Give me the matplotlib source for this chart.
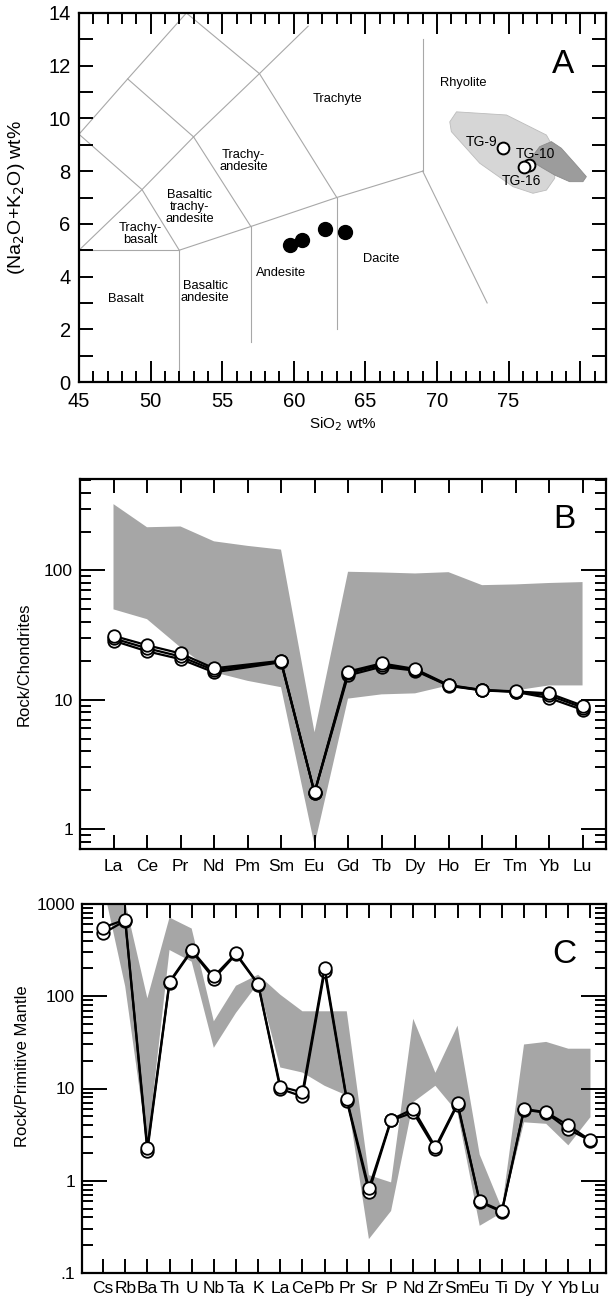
import matplotlib
matplotlib.use('Agg')
import matplotlib.pyplot as plt
from matplotlib.ticker import FixedLocator, FixedFormatter, LogLocator, NullFormatter

plt.rcParams['font.family'] = ['Liberation Sans', 'DejaVu Sans']

# ---------------- Panel A : TAS ----------------
tas_lines = [
    [(45, 5), (52, 5)],
    [(52, 5), (52, 0.4)],
    [(57, 5.9), (57, 1.5)],
    [(63, 7), (63, 2.0)],
    [(52, 5), (57, 5.9), (63, 7), (69, 8)],
    [(69, 8), (69, 13.0)],
    [(69, 8), (73.5, 3.0)],
    [(45, 9.4), (49.4, 7.3), (52, 5)],
    [(45, 5), (49.4, 7.3), (53, 9.3), (57.6, 11.7), (61, 13.5)],
    [(53, 9.3), (57, 5.9)],
    [(57.6, 11.7), (63, 7)],
    [(48.4, 11.5), (53, 9.3)],
    [(45, 9.4), (48.4, 11.5), (52.5, 14)],
    [(52.5, 14), (57.6, 11.7)],
]
field_names = ['Trachyte', 'Rhyolite', 'Trachy-\nandesite', 'Basaltic\ntrachy-\nandesite',
               'Trachy-\nbasalt', 'Basalt', 'Basaltic\nandesite', 'Andesite', 'Dacite']
field_x = [63.05, 71.8, 56.5, 52.75, 49.3, 48.25, 53.8, 59.1, 66.1]
field_y = [10.75, 11.35, 8.4, 6.65, 5.6, 3.15, 3.4, 4.15, 4.65]

andesite_sio2 = [59.7, 60.6, 62.2, 63.6]
andesite_alk = [5.2, 5.4, 5.8, 5.7]

tg_names = ['TG-9', 'TG-10', 'TG-16']
tg_sio2 = [74.6, 76.45, 76.1]
tg_alk = [8.87, 8.23, 8.17]
tg_label_x = [73.1, 76.85, 75.9]
tg_label_y = [9.12, 8.65, 7.62]

light_field_x = [70.89, 71.36, 74.85, 77.64, 78.22, 78.22, 77.64, 76.7, 75.31, 72.98, 71.0]
light_field_y = [9.87, 10.25, 10.13, 9.37, 8.80, 7.73, 7.28, 7.16, 7.41, 8.30, 9.50]
dark_field_x = [76.47, 77.17, 77.99, 78.68, 79.73, 80.43, 80.19, 79.26, 78.22, 77.4]
dark_field_y = [8.42, 8.93, 9.12, 8.87, 8.23, 7.79, 7.60, 7.60, 7.85, 8.11]

# ---------------- Panel B : REE ----------------
ree = ['La', 'Ce', 'Pr', 'Nd', 'Pm', 'Sm', 'Eu', 'Gd', 'Tb', 'Dy', 'Ho', 'Er', 'Tm', 'Yb', 'Lu']
ree_s1 = [31.2, 26.4, 22.8, 17.5, None, 20.0, 1.92, 16.5, 19.1, 17.3, 13.0, 11.9, 11.6, 11.2, 9.0]
ree_s2 = [28.6, 23.7, 20.6, 16.3, None, 19.5, 1.90, 15.4, 18.0, 16.8, 12.8, 11.8, 11.5, 10.3, 8.35]
ree_s3 = [29.8, 25.0, 21.6, 16.9, None, 19.8, 1.91, 16.0, 18.6, 17.0, 12.9, 11.85, 11.55, 10.8, 8.7]
ree_band_hi = [326, 216, 219, 168, 155, 145, 5.6, 97.7, 96.5, 94.8, 97, 77, 78, 80, 81.3]
ree_band_lo = [50, 42, 25.4, 16.3, 14.0, 12.5, 0.75, 10.2, 11.0, 11.2, 12.9, 11.8, 11.8, 12.9, 12.9]

# ---------------- Panel C : spider ----------------
spd = ['Cs', 'Rb', 'Ba', 'Th', 'U', 'Nb', 'Ta', 'K', 'La', 'Ce', 'Pb', 'Pr', 'Sr', 'P', 'Nd',
       'Zr', 'Sm', 'Eu', 'Ti', 'Dy', 'Y', 'Yb', 'Lu']
spd_s1 = [556, 677, 2.27, 144, 317, 164, 292, 136, 10.5, 9.08, 204, 7.7, 0.83, 4.6, 6.0,
          2.32, 6.9, 0.60, 0.47, 6.0, 5.53, 3.98, 2.74]
spd_s2 = [479, 660, 2.10, 140, 310, 155, 285, 134, 9.9, 8.2, 186, 7.4, 0.76, 4.5, 5.5,
          2.2, 6.7, 0.59, 0.46, 5.9, 5.45, 3.6, 2.72]
spd_band_hi = [3000, 1050, 95, 713, 542, 53.5, 130, 171, 104, 68.7, 68.7, 68.7, 1.15, 0.96, 57,
               14.8, 48, 1.92, 0.5, 30, 32, 27, 27]
spd_band_lo = [1600, 128, 2.4, 317, 237, 27.6, 66, 138, 16.9, 14.9, 10.7, 8.4, 0.233, 0.47, 7.1,
               10.7, 5.5, 0.325, 0.45, 4.3, 4.14, 2.42, 4.9]

fig = plt.figure(figsize=(6.10, 13.01), dpi=100)
W, H = 610.0, 1301.0

def add_axes(left, top, right, bottom):
    return fig.add_axes([left / W, 1 - bottom / H, (right - left) / W, (bottom - top) / H])

axA = add_axes(79, 13, 606, 382)
axB = add_axes(80, 479, 606, 849)
axC = add_axes(82, 904, 606, 1273)

spine_w = 1.6
for ax in (axA, axB, axC):
    for s in ax.spines.values():
        s.set_linewidth(spine_w)

# ---- A ----
for seg in tas_lines:
    xs = [p[0] for p in seg]
    ys = [p[1] for p in seg]
    axA.plot(xs, ys, color='#a8a8a8', lw=0.8, zorder=1)
axA.fill(light_field_x, light_field_y, facecolor='#d6d6d6', edgecolor='#bcbcbc', lw=0.6, zorder=2)
axA.fill(dark_field_x, dark_field_y, facecolor='#9c9c9c', edgecolor='#8c8c8c', lw=0.6, zorder=3)
for n, x, y in zip(field_names, field_x, field_y):
    axA.text(x, y, n, ha='center', va='center', fontsize=9.3, linespacing=1.0, zorder=4)
axA.plot(andesite_sio2, andesite_alk, 'o', ms=10, mfc='black', mec='black', zorder=5)
axA.plot(tg_sio2, tg_alk, 'o', ms=8.5, mfc='white', mec='black', mew=1.4, zorder=6)
for n, x, y in zip(tg_names, tg_label_x, tg_label_y):
    axA.text(x, y, n, ha='center', va='center', fontsize=10, zorder=7)
axA.text(0.918, 0.86, 'A', transform=axA.transAxes, ha='center', va='center', fontsize=24)

axA.set_xlim(45, 81.8)
axA.set_ylim(0, 14)
xmaj = [45, 50, 55, 60, 65, 70, 75, 80]
axA.xaxis.set_major_locator(FixedLocator(xmaj))
axA.xaxis.set_major_formatter(FixedFormatter(['45', '50', '55', '60', '65', '70', '75', '']))
axA.xaxis.set_minor_locator(FixedLocator([v for v in range(45, 82) if v % 5]))
axA.yaxis.set_major_locator(FixedLocator(list(range(0, 15, 2))))
axA.yaxis.set_minor_locator(FixedLocator(list(range(1, 14, 2))))
axA.tick_params(axis='x', which='major', direction='in', top=True, bottom=True, length=15, width=1.4,
                labelsize=14.5, pad=7)
axA.tick_params(axis='x', which='minor', direction='in', top=True, bottom=True, length=8, width=1.4)
axA.tick_params(axis='y', which='major', direction='in', left=True, right=True, length=10, width=1.4,
                labelsize=14.5, pad=6)
axA.tick_params(axis='y', which='minor', direction='in', left=True, right=True, length=10, width=1.4)
axA.set_xlabel('SiO$_2$ wt%', fontsize=11, labelpad=3)
axA.set_ylabel('(Na$_2$O+K$_2$O) wt%', fontsize=14)
axA.yaxis.set_label_coords(-0.098, 0.5)

# ---- B ----
xb = list(range(len(ree)))
axB.fill_between(xb, ree_band_lo, ree_band_hi, facecolor='#a6a6a6', edgecolor='none', lw=0, zorder=1)
for series in (ree_s2, ree_s3, ree_s1):
    xs = [i for i, v in zip(xb, series) if v is not None]
    ys = [v for v in series if v is not None]
    axB.plot(xs, ys, '-o', color='black', lw=1.6, ms=9, mfc='white', mec='black', mew=1.3, zorder=3)
axB.set_yscale('log')
axB.set_xlim(-1, 14.7)
axB.set_ylim(0.7, 510)
axB.set_xticks(xb)
axB.set_xticklabels(ree)
axB.yaxis.set_major_locator(FixedLocator([1, 10, 100]))
axB.yaxis.set_major_formatter(FixedFormatter(['1', '10', '100']))
axB.yaxis.set_minor_locator(LogLocator(base=10, subs=[2, 3, 4, 5, 6, 7, 8, 9]))
axB.yaxis.set_minor_formatter(NullFormatter())
axB.tick_params(axis='x', which='major', direction='in', top=True, bottom=True, length=10, width=1.4,
                labelsize=12.5, pad=7)
axB.tick_params(axis='y', which='major', direction='in', left=True, right=True, length=18, width=1.4,
                labelsize=12.5, pad=5)
axB.tick_params(axis='y', which='minor', direction='in', left=True, right=True, length=8, width=1.4)
axB.set_ylabel('Rock/Chondrites', fontsize=12)
axB.yaxis.set_label_coords(-0.092, 0.5)
axB.text(0.92, 0.89, 'B', transform=axB.transAxes, ha='center', va='center', fontsize=24)

# ---- C ----
xc = list(range(len(spd)))
axC.fill_between(xc, spd_band_lo, spd_band_hi, facecolor='#a6a6a6', edgecolor='none', lw=0, zorder=1)
for series in (spd_s2, spd_s1):
    axC.plot(xc, series, '-o', color='black', lw=1.6, ms=9, mfc='white', mec='black', mew=1.3, zorder=3)
axC.set_yscale('log')
axC.set_xlim(-0.95, 22.7)
axC.set_ylim(0.1, 1000)
axC.set_xticks(xc)
axC.set_xticklabels(spd)
axC.yaxis.set_major_locator(FixedLocator([0.1, 1, 10, 100, 1000]))
axC.yaxis.set_major_formatter(FixedFormatter(['.1', '1', '10', '100', '1000']))
axC.yaxis.set_minor_locator(LogLocator(base=10, subs=[2, 3, 4, 5, 6, 7, 8, 9]))
axC.yaxis.set_minor_formatter(NullFormatter())
axC.tick_params(axis='x', which='major', direction='in', top=True, bottom=True, length=10, width=1.4,
                labelsize=12.5, pad=6)
axC.tick_params(axis='y', which='major', direction='in', left=True, right=True, length=18, width=1.4,
                labelsize=12.5, pad=5)
axC.tick_params(axis='y', which='minor', direction='in', left=True, right=True, length=8, width=1.4)
axC.set_ylabel('Rock/Primitive Mantle', fontsize=12)
axC.yaxis.set_label_coords(-0.1, 0.56)
axC.text(0.92, 0.862, 'C', transform=axC.transAxes, ha='center', va='center', fontsize=24)

fig.savefig('out.png', dpi=100)
